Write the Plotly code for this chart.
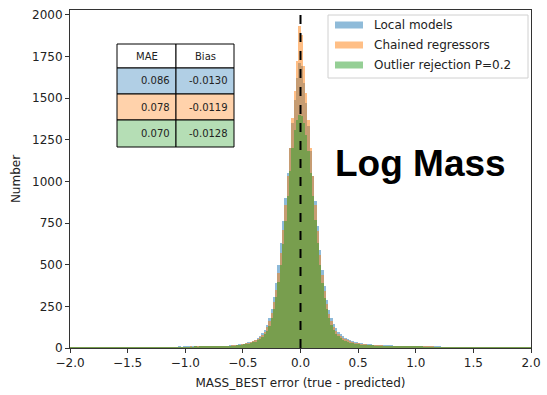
import numpy as np
import plotly.graph_objects as go

# ---------------- data ----------------
bin_start = -2.0
bin_width = 0.02

series_names = ["Local models", "Chained regressors", "Outlier rejection P=0.2"]
series_colors = ["#1f77b4", "#ff7f0e", "#2ca02c"]

# counts per 0.02-wide bin, from -2.0 to 2.0 (200 bins)
local_counts = (
    [2,1,1,2,2,1,2,2,2,1,2,3,2,2,1,3,2,2,2,3,
     3,3,2,3,4,3,3,3,4,4,3,4,4,4,5,4,4,5,4,5,
     5,5,5,6,5,6,6,7,6,7,7,7,8,7,8,8,9,9,9,10,
     10,11,11,12,12,13,14,14,15,16]
    + [17,18,20,22,25,27,30,34,38,44,50,60,72,88,110,140,180,235,305,390,
       500,630,760,900,1050,1200,1350,1490,1620,1710]
    + [1690,1590,1470,1330,1180,1030,880,730,590,470,370,290,228,180,145,118,98,82,70,60,
       52,46,42,37,34,30,28,26,24,22]
    + [22,21,20,21,19,18,18,17,16,16,15,15,14,14,13,12,12,11,11,10,
       10,10,9,9,8,8,8,7,7,7,7,6,6,6,6,5,5,5,5,4,
       4,4,4,4,3,3,4,3,3,3,3,3,3,2,3,2,2,3,2,2,
       2,2,2,2,2,1,2,2,1,2]
)

chained_counts = (
    [1,1,2,1,1,2,1,2,1,2,2,1,2,2,2,1,2,2,3,2,
     2,3,2,3,3,2,3,3,4,3,3,4,3,4,4,3,4,4,4,4,
     4,4,5,4,5,5,5,6,5,6,6,6,7,6,7,7,7,8,8,8,
     8,9,9,10,10,11,12,13,14,15]
    + [16,17,19,21,23,25,28,31,35,40,46,54,64,78,98,125,160,210,275,350,
       450,570,710,860,1030,1200,1380,1540,1720,1930]
    + [1880,1690,1530,1370,1200,1030,860,700,560,440,340,265,205,160,128,104,86,72,61,53,
       46,41,37,33,30,28,26,24,22,21]
    + [20,19,18,17,16,16,15,14,14,13,13,12,12,11,11,10,10,10,9,9,
       9,8,8,8,7,7,7,7,6,6,6,6,5,5,5,5,5,4,4,4,
       4,4,4,3,3,3,3,3,3,3,3,3,2,3,2,2,3,2,2,2,
       2,2,2,2,1,2,2,1,2,2]
)

outlier_counts = (
    [1,1,1,1,2,1,1,1,2,1,1,2,1,1,2,1,1,2,2,1,
     2,2,2,2,2,2,3,2,2,3,2,3,3,2,3,3,3,3,3,4,
     4,4,4,4,5,4,5,5,5,5,6,5,6,6,7,6,7,7,8,8,
     9,9,10,10,11,11,12,12,13,13]
    + [14,15,16,18,20,22,24,27,30,34,39,46,55,66,82,104,135,178,235,305,
       395,500,625,760,910,1060,1200,1310,1370,1400]
    + [1390,1350,1280,1180,1050,910,770,630,500,390,300,232,178,138,108,86,70,58,49,42,
       37,33,30,27,25,23,21,19,18,17]
    + [16,16,15,14,14,13,13,12,12,11,11,10,10,10,9,9,8,8,8,7,
       7,7,7,6,6,6,5,5,5,5,5,4,4,4,4,4,3,3,3,3,
       3,3,3,3,2,2,2,2,2,2,2,2,2,2,2,2,1,2,1,1,
       1,1,1,1,1,1,1,1,1,1]
)

table_header = ["MAE", "Bias"]
table_mae = ["0.086", "0.078", "0.070"]
table_bias = ["-0.0130", "-0.0119", "-0.0128"]
table_fill = ["rgb(177,207,229)", "rgb(255,210,171)", "rgb(181,222,181)"]

x_ticks = [-2.0, -1.5, -1.0, -0.5, 0.0, 0.5, 1.0, 1.5, 2.0]
y_ticks = [0, 250, 500, 750, 1000, 1250, 1500, 1750, 2000]

# ---------------- figure ----------------
all_counts = [local_counts, chained_counts, outlier_counts]
fig = go.Figure()
for name, color, counts in zip(series_names, series_colors, all_counts):
    n = len(counts)
    centers = bin_start + bin_width * (np.arange(n) + 0.5)
    fig.add_trace(go.Bar(
        x=centers, y=counts, width=bin_width, name=name,
        marker=dict(color=color, line=dict(width=0)), opacity=0.5,
        showlegend=False,
    ))

W, H = 547, 395
L, R, T, B = 70, 16, 10, 47
pw = W - L - R
ph = H - T - B


def px(x):
    return (x - L) / pw


def py(y):
    return (H - B - y) / ph


shapes = []
annotations = []

# dashed line at zero
shapes.append(dict(type="line", xref="x", yref="paper", x0=0, x1=0, y0=0, y1=1,
                   line=dict(color="black", width=2, dash="dash")))

# legend (manual, matplotlib style)
shapes.append(dict(type="rect", xref="paper", yref="paper",
                   x0=px(328), x1=px(528), y0=py(15), y1=py(78),
                   line=dict(color="#d0d0d0", width=1), fillcolor="rgba(255,255,255,0.8)"))
leg_rows = [25, 45, 65]
for name, color, yc in zip(series_names, series_colors, leg_rows):
    shapes.append(dict(type="rect", xref="paper", yref="paper",
                       x0=px(335), x1=px(363), y0=py(yc - 3.5), y1=py(yc + 3.5),
                       line=dict(width=0), fillcolor=color, opacity=0.5))
    annotations.append(dict(xref="paper", yref="paper", x=px(372), y=py(yc),
                            text=name, showarrow=False, xanchor="left", yanchor="middle",
                            font=dict(family="DejaVu Sans", size=12, color="#222")))

# table
col_x = [117, 176, 234]
row_y = [44, 68, 94, 120, 147]
for r in range(4):
    for c in range(2):
        fill = "white" if r == 0 else table_fill[r - 1]
        shapes.append(dict(type="rect", xref="paper", yref="paper",
                           x0=px(col_x[c]), x1=px(col_x[c + 1]),
                           y0=py(row_y[r]), y1=py(row_y[r + 1]),
                           line=dict(color="black", width=1), fillcolor=fill))
for c in range(2):
    annotations.append(dict(xref="paper", yref="paper",
                            x=px((col_x[c] + col_x[c + 1]) / 2), y=py((row_y[0] + row_y[1]) / 2),
                            text=table_header[c], showarrow=False,
                            xanchor="center", yanchor="middle",
                            font=dict(family="DejaVu Sans", size=10, color="#222")))
for r in range(3):
    yc = py((row_y[r + 1] + row_y[r + 2]) / 2)
    annotations.append(dict(xref="paper", yref="paper", x=px(col_x[1] - 4), y=yc,
                            text=table_mae[r], showarrow=False, xanchor="right", yanchor="middle",
                            font=dict(family="DejaVu Sans", size=10, color="#222")))
    annotations.append(dict(xref="paper", yref="paper", x=px(col_x[2] - 4), y=yc,
                            text=table_bias[r], showarrow=False, xanchor="right", yanchor="middle",
                            font=dict(family="DejaVu Sans", size=10, color="#222")))

# big label
annotations.append(dict(xref="paper", yref="paper", x=px(333), y=py(163),
                        text="<b>Log Mass</b>", showarrow=False, xanchor="left", yanchor="middle",
                        font=dict(family="Liberation Sans", size=37, color="black")))

fig.update_layout(
    width=W, height=H,
    margin=dict(l=L, r=R, t=T, b=B),
    barmode="overlay", bargap=0,
    plot_bgcolor="white", paper_bgcolor="white",
    shapes=shapes, annotations=annotations,
    font=dict(family="DejaVu Sans", size=12, color="#222"),
    xaxis=dict(range=[-2, 2], tickvals=x_ticks, tickformat=".1f",
               ticks="outside", ticklen=4, tickcolor="#333",
               showline=True, linecolor="#333", linewidth=1, mirror=True,
               showgrid=False, zeroline=False, automargin=False,
               title=dict(text="MASS_BEST error (true - predicted)", standoff=9,
                          font=dict(size=12))),
    yaxis=dict(range=[0, 2028], tickvals=y_ticks,
               ticks="outside", ticklen=4, tickcolor="#333",
               showline=True, linecolor="#333", linewidth=1, mirror=True,
               showgrid=False, zeroline=False, automargin=False,
               title=dict(text="Number", standoff=8, font=dict(size=12))),
)

fig.write_html("out.html")
